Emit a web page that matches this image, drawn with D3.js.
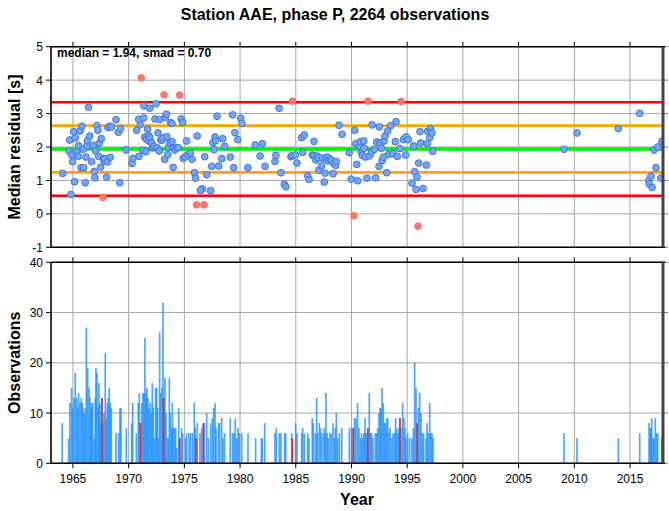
<!DOCTYPE html>
<html><head><meta charset="utf-8">
<script src="https://cdn.jsdelivr.net/npm/d3@7"></script>
<style>
body{margin:0;background:#fff}
text{font-family:"Liberation Sans",Arial,Helvetica,sans-serif;fill:#000}
</style>
</head><body>
<svg id="chart" width="669" height="511"></svg>
<script>
// ---------- DATA ----------
const titleText = "Station AAE, phase P, 2264 observations";
const medianVal = 1.94;
const smadVal = 0.70;
const xTicks = [1965,1970,1975,1980,1985,1990,1995,2000,2005,2010,2015];
const yTopTicks = [-1,0,1,2,3,4,5];
const yBotTicks = [0,10,20,30,40];

const ptYear = [1964.08,1964.82,1964.70,1964.64,1964.90,1964.97,1965.06,1965.20,1965.15,1965.36,1965.50,1965.48,1965.63,1965.80,1965.72,1965.96,1965.93,1966.10,1966.17,1966.26,1966.30,1966.40,1966.50,1966.68,1966.86,1966.90,1966.97,1967.04,1967.15,1967.24,1967.30,1967.36,1967.54,1967.48,1967.70,1967.76,1967.80,1967.87,1968.02,1968.10,1968.14,1968.30,1968.35,1968.47,1968.86,1969.07,1969.28,1969.20,1969.76,1970.30,1970.39,1970.72,1970.93,1971.04,1970.90,1971.13,1971.26,1971.37,1971.35,1971.44,1971.55,1971.58,1971.70,1971.76,1971.80,1971.88,1971.90,1972.06,1972.15,1972.27,1972.36,1972.45,1972.57,1972.63,1972.75,1972.80,1972.90,1972.96,1973.08,1973.17,1973.23,1973.29,1973.38,1973.44,1973.50,1973.60,1973.70,1973.77,1973.89,1973.90,1974.00,1974.02,1974.13,1974.30,1974.45,1974.58,1974.72,1974.85,1974.90,1975.08,1975.20,1975.35,1975.53,1975.70,1975.90,1976.00,1976.15,1976.10,1976.55,1976.64,1976.76,1976.43,1976.82,1977.00,1977.36,1977.45,1977.57,1977.66,1977.75,1977.80,1977.93,1978.08,1978.35,1978.44,1978.62,1979.12,1979.33,1979.43,1979.54,1979.80,1980.05,1980.17,1980.70,1981.36,1981.80,1982.00,1982.24,1983.13,1983.22,1983.50,1983.67,1983.97,1984.12,1984.57,1984.72,1984.69,1984.96,1985.10,1985.53,1985.62,1985.76,1986.07,1986.19,1986.48,1986.64,1986.66,1986.80,1986.93,1987.02,1987.08,1987.32,1987.40,1987.56,1987.62,1987.70,1987.82,1987.92,1988.07,1988.22,1988.34,1988.43,1988.58,1988.64,1988.88,1989.15,1989.80,1989.98,1990.22,1990.29,1990.38,1990.47,1990.56,1990.73,1990.80,1990.88,1990.97,1991.10,1991.15,1991.24,1991.39,1991.48,1991.60,1991.84,1991.81,1992.05,1992.17,1992.26,1992.47,1992.50,1992.56,1992.68,1992.74,1992.86,1992.92,1993.01,1993.16,1993.25,1993.34,1993.52,1993.70,1993.93,1994.00,1994.11,1994.35,1994.44,1994.65,1994.86,1994.89,1995.10,1995.43,1995.58,1995.67,1995.79,1995.88,1995.97,1996.03,1996.15,1996.21,1996.42,1996.72,1996.80,1996.84,1997.02,1997.10,1997.23,1997.29,2009.07,2010.24,2013.95,2015.87,2016.68,2016.73,2016.88,2016.98,2017.16,2017.33,2017.50,2017.77,2017.86];
const ptValue = [1.21,0.58,2.21,1.88,1.76,1.56,2.46,2.27,0.96,1.85,2.04,1.72,2.48,2.62,1.38,1.38,1.93,0.93,1.70,2.03,2.19,3.19,2.33,1.56,2.05,1.27,1.08,1.88,2.64,2.50,1.72,2.11,2.25,1.40,0.49,1.66,1.58,1.65,1.10,1.55,2.58,2.62,1.69,2.60,2.82,2.44,2.55,0.93,1.91,1.51,1.66,2.50,1.72,2.67,2.83,4.07,1.90,3.23,2.87,2.29,1.86,2.24,2.53,2.34,2.18,3.16,2.28,2.13,1.97,2.02,2.84,3.29,1.97,2.42,1.88,2.82,2.21,2.20,2.27,3.56,1.63,2.89,2.98,2.31,1.77,2.00,2.13,2.73,2.70,2.16,1.39,1.96,1.91,1.98,1.98,3.55,2.84,2.73,1.66,1.71,2.18,1.77,1.82,1.63,1.23,1.07,2.33,0.27,0.74,0.75,0.27,0.70,1.71,1.17,0.69,1.42,2.13,1.92,2.30,2.19,2.92,1.43,1.65,2.25,2.02,1.70,2.96,1.38,2.43,2.22,2.86,2.70,1.38,2.06,1.73,2.10,1.42,1.57,1.75,3.16,1.23,0.89,0.81,1.71,3.37,1.75,1.76,1.52,2.28,1.84,2.36,1.14,1.03,1.76,2.17,1.74,1.61,1.73,1.68,1.31,1.44,1.67,0.95,1.22,1.65,1.70,1.58,1.64,1.60,1.20,1.50,1.45,1.57,2.65,2.38,1.83,1.04,-0.06,2.50,2.10,1.48,0.99,2.01,2.16,1.85,1.75,2.18,1.96,1.70,1.07,3.37,1.73,2.66,1.85,1.93,1.08,2.15,1.42,2.60,2.11,1.96,1.59,1.70,2.18,2.33,1.23,2.48,1.78,2.64,1.80,2.16,2.76,1.72,1.95,3.36,2.22,1.76,2.30,2.22,0.92,2.03,1.26,0.73,1.10,-0.37,1.52,2.46,2.12,0.76,1.46,2.10,2.47,2.28,2.55,2.42,1.87,1.93,2.42,2.55,3.01,1.00,0.89,1.13,0.79,1.91,1.38,2.00,1.07,2.17];

const barYear = [1964.04,1964.61,1964.73,1964.88,1964.97,1965.09,1965.21,1965.33,1965.42,1965.51,1965.63,1965.75,1965.84,1965.93,1966.02,1966.14,1966.20,1966.32,1966.44,1966.53,1966.62,1966.68,1966.77,1966.89,1967.00,1967.06,1967.15,1967.27,1967.33,1967.42,1967.51,1967.60,1967.72,1967.78,1967.90,1967.99,1968.08,1968.17,1968.26,1968.35,1968.44,1968.86,1969.10,1969.22,1969.31,1969.79,1970.27,1970.36,1970.69,1970.86,1970.95,1971.07,1971.16,1971.28,1971.37,1971.46,1971.55,1971.64,1971.73,1971.82,1971.94,1972.03,1972.12,1972.21,1972.30,1972.42,1972.51,1972.60,1972.69,1972.78,1972.87,1972.99,1973.08,1973.17,1973.26,1973.35,1973.44,1973.56,1973.65,1973.74,1973.86,1973.92,1974.01,1974.13,1974.22,1974.31,1974.49,1974.58,1974.75,1974.84,1975.11,1975.20,1975.41,1975.56,1975.74,1975.89,1975.98,1976.04,1976.16,1976.40,1976.55,1976.70,1976.79,1977.00,1977.15,1977.36,1977.51,1977.63,1977.75,1977.84,1978.05,1978.17,1978.35,1978.47,1978.61,1979.12,1979.33,1979.45,1979.57,1979.69,1979.81,1979.93,1980.14,1980.71,1981.40,
1981.91,1981.99,1982.21,1983.13,1983.25,1983.52,1983.67,1984.00,1984.09,1984.63,1984.69,1984.99,1985.11,1985.53,1985.62,1985.77,1986.07,1986.19,1986.48,1986.57,1986.75,1986.87,1986.96,1987.11,1987.23,1987.35,1987.53,1987.62,1987.71,1987.83,1987.92,1988.07,1988.19,1988.34,1988.46,1988.55,1988.64,1988.76,1988.91,1989.12,1989.81,1990.01,1990.16,1990.28,1990.40,1990.55,1990.67,1990.79,1990.91,1991.00,1991.12,1991.21,1991.30,1991.42,1991.51,1991.60,1991.69,1991.81,1991.93,1992.14,1992.26,1992.35,1992.47,1992.56,1992.65,1992.74,1992.86,1992.95,1993.04,1993.16,1993.25,1993.37,1993.46,1993.61,1993.73,1993.87,1993.96,1994.05,1994.17,1994.26,1994.35,1994.47,1994.59,1994.71,1994.80,1994.89,1995.04,1995.22,1995.43,1995.55,1995.67,1995.79,1995.88,1996.00,1996.12,1996.24,1996.36,1996.48,1996.69,1996.78,1996.90,1997.02,1997.14,1997.23,1997.32,
2009.08,2010.24,2013.95,2015.87,2016.71,2016.80,2016.89,2016.95,2017.07,2017.16,2017.27,2017.39,2017.48,2017.84];
const barCount = [8,5,12,15,11,13,18,13,11,14,12,13,12,11,10,11,27,19,15,13,11,12,12,5,13,19,18,11,16,12,8,13,8,10,22,9,12,13,15,12,11,6,6,11,11,7,8,12,6,12,14,8,12,14,14,25,14,15,13,11,12,10,16,11,5,15,15,11,5,26,14,15,32,13,17,10,5,5,17,10,7,12,7,7,7,3,11,5,7,6,5,6,6,6,6,12,7,5,8,6,7,8,8,10,5,8,9,11,12,7,8,8,9,5,6,9,6,6,9,5,7,6,6,6,5,
5,5,8,6,7,6,6,6,6,6,5,8,6,6,7,6,6,5,9,8,6,13,6,8,7,6,7,6,14,6,5,6,6,8,5,7,10,5,6,7,7,7,7,9,9,12,7,5,6,5,6,9,6,5,7,14,6,6,5,6,6,7,10,11,11,15,12,8,8,9,9,6,7,5,6,6,9,7,6,7,9,7,12,9,7,5,6,5,5,7,20,15,8,11,14,10,6,6,5,8,6,12,6,6,5,
6,5,5,6,8,7,7,9,5,5,9,6,6,5];

const redBarYear = [1967.60,1971.07,1973.12,1974.58,1976.04,1976.70,1984.69,1990.16,1991.45,1994.35,1995.90];
const redBarCount = [13,8,13,5,5,8,5,7,7,9,8];

// ---------- LAYOUT ----------
const svg = d3.select("#chart");
const L = 51, R = 663;
const x = d3.scaleLinear().domain([1963.03, 2017.96]).range([L, R]);
const yT = d3.scaleLinear().domain([-1, 5]).range([247.3, 46.7]);
const yB = d3.scaleLinear().domain([0, 40]).range([463.3, 262.3]);
const gridCol = "#a6a6a6";
const lo2 = medianVal - 2*smadVal, hi2 = medianVal + 2*smadVal;

svg.append("text").attr("x", 335).attr("y", 20).attr("text-anchor","middle")
  .style("font-size","16px").style("font-weight","bold").text(titleText);

function panel(y, yTicks, top, bottom) {
  const g = svg.append("g");
  g.selectAll(".vg").data(xTicks).enter().append("line")
    .attr("x1", d=>x(d)).attr("x2", d=>x(d)).attr("y1", top).attr("y2", bottom)
    .attr("stroke", gridCol).attr("stroke-width", 1);
  g.selectAll(".hg").data(yTicks).enter().append("line")
    .attr("x1", L).attr("x2", R).attr("y1", d=>y(d)).attr("y2", d=>y(d))
    .attr("stroke", gridCol).attr("stroke-width", 1);
  return g;
}

// ----- Top panel -----
const gT = panel(yT, yTopTicks, yT(5), yT(-1));
const refLines = [
  {v: hi2, c: "#ff0000", w: 2.6},
  {v: lo2, c: "#ff0000", w: 2.6},
  {v: medianVal + smadVal, c: "#ffa500", w: 2.6},
  {v: medianVal - smadVal, c: "#ffa500", w: 2.6},
  {v: medianVal, c: "#00ee00", w: 3.6}
];
gT.selectAll(".ref").data(refLines).enter().append("line")
  .attr("x1", L).attr("x2", R).attr("y1", d=>yT(d.v)).attr("y2", d=>yT(d.v))
  .attr("stroke", d=>d.c).attr("stroke-width", d=>d.w);

const pts = ptYear.map((t,i)=>({t, v: ptValue[i], out: ptValue[i] > hi2 || ptValue[i] < lo2}));
svg.append("clipPath").attr("id","clipT").append("rect")
  .attr("x", L).attr("y", yT(5)).attr("width", R-L).attr("height", yT(-1)-yT(5));
gT.append("g").attr("clip-path","url(#clipT)")
  .selectAll("circle").data(pts).enter().append("circle")
  .attr("cx", d=>x(d.t)).attr("cy", d=>yT(d.v)).attr("r", 3.4)
  .attr("fill", d=>d.out ? "#f87a6e" : "#74a6f0")
  .attr("stroke", d=>d.out ? "#ff6a6a" : "#3a6fe0").attr("stroke-width", 0.9);

gT.append("text").attr("x", 57).attr("y", 57).style("font-size","12px").style("font-weight","bold")
  .text(`median = ${medianVal.toFixed(2)}, smad = ${smadVal.toFixed(2)}`);

// ----- Bottom panel -----
const gB = panel(yB, yBotTicks, yB(40), yB(0));
const bw = 0.15;
const bars = barYear.map((t,i)=>({t, n: barCount[i]}));
gB.selectAll(".bar").data(bars).enter().append("rect")
  .attr("x", d=>x(d.t - bw/2)).attr("width", x(bw) - x(0))
  .attr("y", d=>yB(d.n)).attr("height", d=>yB(0)-yB(d.n))
  .attr("fill", "#1e90ff").attr("fill-opacity", 0.8);
const rbars = redBarYear.map((t,i)=>({t, n: redBarCount[i]}));
gB.selectAll(".rbar").data(rbars).enter().append("rect")
  .attr("x", d=>x(d.t - bw/2)).attr("width", x(bw) - x(0))
  .attr("y", d=>yB(d.n)).attr("height", d=>yB(0)-yB(d.n))
  .attr("fill", "#ff1a1a").attr("fill-opacity", 0.85);

// ----- Frames and axes -----
function frame(y, yTicks, showBottomLabels) {
  const top = y.range()[1], bot = y.range()[0];
  const g = svg.append("g");
  g.selectAll(".tl").data(yTicks).enter().append("line")
    .attr("x1", L-5).attr("x2", L).attr("y1", d=>y(d)).attr("y2", d=>y(d))
    .attr("stroke", "#000").attr("stroke-width", 1);
  g.selectAll(".tr").data(yTicks).enter().append("line")
    .attr("x1", R).attr("x2", R+5).attr("y1", d=>y(d)).attr("y2", d=>y(d))
    .attr("stroke", "#777").attr("stroke-width", 1);
  g.selectAll(".tt").data(xTicks).enter().append("line")
    .attr("x1", d=>x(d)).attr("x2", d=>x(d)).attr("y1", top-5).attr("y2", top)
    .attr("stroke", "#000").attr("stroke-width", 1);
  if (showBottomLabels) {
    g.selectAll(".tb").data(xTicks).enter().append("line")
      .attr("x1", d=>x(d)).attr("x2", d=>x(d)).attr("y1", bot).attr("y2", bot+5)
      .attr("stroke", "#000").attr("stroke-width", 1);
    g.selectAll(".xl").data(xTicks).enter().append("text")
      .attr("x", d=>x(d)).attr("y", bot+20).attr("text-anchor","middle")
      .style("font-size","12px").text(d=>d);
  }
  g.selectAll(".yl").data(yTicks).enter().append("text")
    .attr("x", L-8).attr("y", d=>y(d)+4.5).attr("text-anchor","end")
    .style("font-size","12px").text(d=>d);
  g.append("line").attr("x1", L).attr("x2", R+2).attr("y1", top).attr("y2", top).attr("stroke","#000").attr("stroke-width",1.6);
  g.append("line").attr("x1", L).attr("x2", R+2).attr("y1", bot).attr("y2", bot).attr("stroke","#000").attr("stroke-width",1.6);
  g.append("line").attr("x1", L).attr("x2", L).attr("y1", top).attr("y2", bot).attr("stroke","#000").attr("stroke-width",1.6);
  g.append("line").attr("x1", R).attr("x2", R).attr("y1", top).attr("y2", bot).attr("stroke","#444").attr("stroke-width",3);
}
frame(yT, yTopTicks, false);
frame(yB, yBotTicks, true);

svg.append("text").attr("transform", `translate(20,${(yT(5)+yT(-1))/2}) rotate(-90)`)
  .attr("text-anchor","middle").style("font-size","16px").style("font-weight","bold")
  .text("Median residual [s]");
svg.append("text").attr("transform", `translate(20,${(yB(40)+yB(0))/2}) rotate(-90)`)
  .attr("text-anchor","middle").style("font-size","16px").style("font-weight","bold")
  .text("Observations");
svg.append("text").attr("x", (L+R)/2).attr("y", 505).attr("text-anchor","middle")
  .style("font-size","16px").style("font-weight","bold").text("Year");
</script>
</body></html>
